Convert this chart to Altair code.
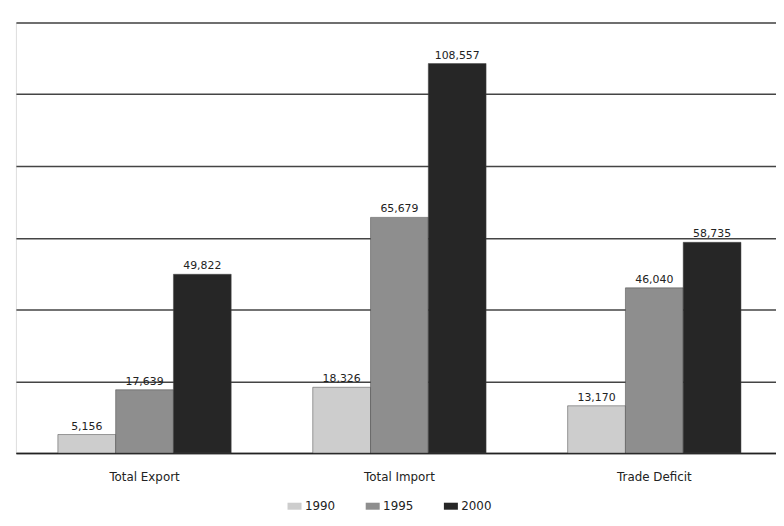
import altair as alt
import pandas as pd

categories = ["Total Export", "Total Import", "Trade Deficit"]
years = ["1990", "1995", "2000"]
values = {
    "1990": [5156, 18326, 13170],
    "1995": [17639, 65679, 46040],
    "2000": [49822, 108557, 58735],
}
labels = {
    "1990": ["5,156", "18,326", "13,170"],
    "1995": ["17,639", "65,679", "46,040"],
    "2000": ["49,822", "108,557", "58,735"],
}
colors = ["#cdcdcd", "#8e8e8e", "#262626"]
grid_values = [0, 20000, 40000, 60000, 80000, 100000, 120000]

rows = []
for y in years:
    for i, c in enumerate(categories):
        rows.append({"category": c, "year": y, "value": values[y][i], "label": labels[y][i]})
df = pd.DataFrame(rows)

FONT = "DejaVu Sans"

x = alt.X("category:N", sort=categories, title=None,
          scale=alt.Scale(paddingInner=0.32, paddingOuter=0.151, align=0.545),
          axis=alt.Axis(labelAngle=0, labelFontSize=12, labelFont=FONT, labelColor="#222",
                        labelPadding=19, ticks=False, domainColor="#222", domainWidth=1.5))
xo = alt.XOffset("year:N", sort=years, scale=alt.Scale(paddingInner=0, paddingOuter=0))
y = alt.Y("value:Q", title=None,
          scale=alt.Scale(domain=[0, 120000], nice=False),
          axis=alt.Axis(values=grid_values, labels=False, ticks=False, domain=False,
                        grid=True, gridColor="#444", gridWidth=1.3))

base = alt.Chart(df)

bars = base.mark_bar(stroke="#444", strokeWidth=0.5).encode(
    x=x, xOffset=xo, y=y,
    color=alt.Color("year:N", sort=years,
                    scale=alt.Scale(domain=years, range=colors),
                    legend=alt.Legend(title=None, orient="none", direction="horizontal",
                                      legendX=274, legendY=481,
                                      symbolType="M-1,-0.5H1V0.5H-1Z", symbolSize=200,
                                      symbolStrokeWidth=0, labelFontSize=12, labelFont=FONT,
                                      labelColor="#222", columnPadding=30, labelOffset=3)),
)

text = base.mark_text(baseline="bottom", dy=-3, fontSize=11, font=FONT, color="#222").encode(
    x=x, xOffset=xo, y=y, text="label:N"
)

chart = alt.layer(bars, text).properties(
    width=768, height=435,
    padding={"left": 8, "top": 12, "right": 0, "bottom": 63},
    autosize=alt.AutoSizeParams(type="none"),
).configure_view(stroke="#888", strokeWidth=1.5).configure(background="white")

chart.save("out.html", embed_options={"renderer": "svg", "actions": False})
